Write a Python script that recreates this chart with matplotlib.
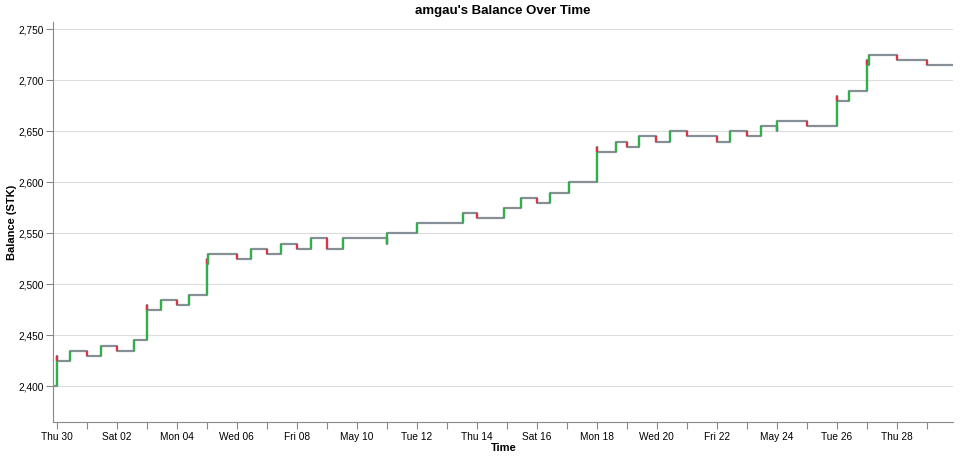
import numpy as np
import pandas as pd
import matplotlib
matplotlib.use("Agg")
import matplotlib.pyplot as plt

plt.rcParams['font.family'] = ['Liberation Sans', 'DejaVu Sans']

# balance history
start_time = "2020-04-29 21:24"
end_time = "2020-05-29 21:20"
start_balance = 2400

event_times = [
    "2020-04-30 00:25", "2020-04-30 00:25", "2020-04-30 10:25",
    "2020-05-01 00:30", "2020-05-01 11:45", "2020-05-02 00:05",
    "2020-05-02 13:40", "2020-05-03 00:30", "2020-05-03 00:30",
    "2020-05-03 11:45", "2020-05-04 00:05", "2020-05-04 10:05",
    "2020-05-05 00:30", "2020-05-05 00:30", "2020-05-05 01:30",
    "2020-05-06 00:05", "2020-05-06 11:15", "2020-05-07 00:05",
    "2020-05-07 11:45", "2020-05-08 00:05", "2020-05-08 11:15",
    "2020-05-09 00:05", "2020-05-09 13:25", "2020-05-11 00:05",
    "2020-05-11 00:05", "2020-05-12 00:30", "2020-05-13 13:25",
    "2020-05-14 00:05", "2020-05-14 21:50", "2020-05-15 11:15",
    "2020-05-16 00:30", "2020-05-16 10:35", "2020-05-17 02:10",
    "2020-05-18 00:05", "2020-05-18 00:05", "2020-05-18 15:10",
    "2020-05-19 00:05", "2020-05-19 10:05", "2020-05-19 23:30",
    "2020-05-20 10:35", "2020-05-21 00:05", "2020-05-22 00:05",
    "2020-05-22 10:20", "2020-05-23 00:05", "2020-05-23 11:15",
    "2020-05-24 00:05", "2020-05-24 00:05", "2020-05-25 00:05",
    "2020-05-26 00:30", "2020-05-26 00:30", "2020-05-26 10:05",
    "2020-05-27 00:30", "2020-05-27 00:30", "2020-05-27 01:30",
    "2020-05-28 00:05", "2020-05-29 00:30",
]
event_deltas = [
    30, -5, 10,
    -5, 10, -5,
    10, 35, -5,
    10, -5, 10,
    35, -5, 10,
    -5, 10, -5,
    10, -5, 10,
    -10, 10, -5,
    10, 10, 10,
    -5, 10, 10,
    -5, 10, 10,
    35, -5, 10,
    -5, 10, -5,
    10, -5, -5,
    10, -5, 10,
    -5, 10, -5,
    30, -5, 10,
    30, -5, 10,
    -5, -5,
]

times = pd.to_datetime(event_times)
deltas = np.array(event_deltas)
after = start_balance + np.cumsum(deltas)
before = after - deltas

t0 = pd.Timestamp(start_time)
t1 = pd.Timestamp(end_time)
line_t = [t0] + list(times) + [t1]
line_v = [start_balance] + list(after) + [after[-1]]

fig = plt.figure(figsize=(9.6, 4.59), dpi=100)
ax = fig.add_axes([53.3 / 960, 1 - 422.3 / 459, 900 / 960, 400 / 459])

ax.step(line_t, line_v, where='post', color='#868e96', lw=1.6, zorder=3)
for t, b, a, d in zip(times, before, after, deltas):
    c = '#2fb14a' if d > 0 else '#dc3545'
    ax.plot([t, t], [b, a], color=c, lw=1.6, zorder=4, solid_capstyle='butt')

ax.set_xlim(t0, t1)
ax.set_ylim(2364.7, 2756.9)

yt = [2400, 2450, 2500, 2550, 2600, 2650, 2700, 2750]
ax.set_yticks(yt)
ax.set_yticklabels([f"{v:,}" for v in yt])

day_ticks = pd.date_range("2020-04-30", "2020-05-29", freq="D")
ax.set_xticks(day_ticks)
labels = []
for i, d in enumerate(day_ticks):
    if i % 2:
        labels.append("")
    elif d.dayofweek == 6:
        labels.append(d.strftime("%b %d"))
    else:
        labels.append(d.strftime("%a %d"))
ax.set_xticklabels(labels)

ax.grid(axis='y', color='#dddddd', lw=0.8)
ax.set_axisbelow(True)
for s in ['top', 'right']:
    ax.spines[s].set_visible(False)
for s in ['left', 'bottom']:
    ax.spines[s].set_color('#888888')
    ax.spines[s].set_linewidth(0.8)
ax.tick_params(colors='#888888', labelcolor='#000000', length=5, width=0.8,
               labelsize=7.3, pad=2)

ax.set_xlabel("Time", fontsize=8, fontweight='bold')
ax.set_ylabel("Balance (STK)", fontsize=8, fontweight='bold')
ax.xaxis.set_label_coords(0.5, (422.3 - 443) / 400)
ax.yaxis.set_label_coords((17 - 53.3) / 900, 0.5)
fig.text(503 / 960, 1 - 11 / 459, "amgau's Balance Over Time", ha='center',
         va='center', fontsize=9.5, fontweight='bold')

fig.savefig("out.png", dpi=100)
